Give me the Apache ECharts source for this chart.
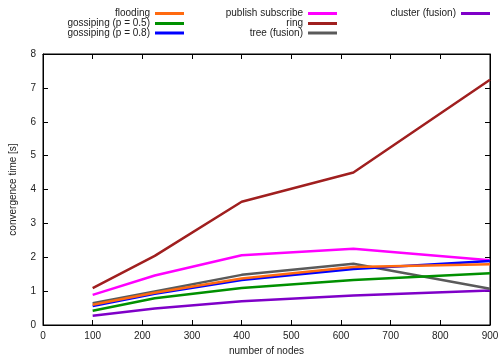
<!DOCTYPE html>
<html>
<head>
<meta charset="utf-8">
<script src="https://cdn.jsdelivr.net/npm/echarts@6/dist/echarts.min.js"></script>
<style>
  html, body { margin: 0; padding: 0; background: #fff; }
  #chart { width: 499px; height: 359px; }
</style>
</head>
<body>
<div id="chart"></div>
<script>
// Number of nodes in each run
const nodes = [100, 225, 400, 625, 900];

// Convergence time in seconds per protocol
const flooding = [0.60, 0.95, 1.37, 1.71, 1.79];
const gossip05 = [0.42, 0.79, 1.09, 1.33, 1.53];
const gossip08 = [0.56, 0.92, 1.33, 1.65, 1.89];
const pubsub = [0.89, 1.46, 2.06, 2.25, 1.91];
const ring = [1.09, 2.04, 3.64, 4.50, 7.24];
const tree = [0.64, 0.99, 1.48, 1.81, 1.07];
const cluster = [0.27, 0.49, 0.70, 0.87, 1.02];

const seriesNames = ['flooding', 'gossiping (p = 0.5)', 'gossiping (p = 0.8)',
  'publish subscribe', 'ring', 'tree (fusion)', 'cluster (fusion)'];
const seriesData = [flooding, gossip05, gossip08, pubsub, ring, tree, cluster];
const colors = ['#ff6a10', '#009000', '#0000ff', '#ff00ff', '#a01f1f', '#5a5a5a', '#7f00c8'];

// Key layout: three columns, text right-aligned before the line sample
const keyRight = [315, 315, 315, 162, 162, 162, 9];
const keyTop = [8.5, 18.5, 28, 8.5, 18.5, 28, 8.5];

const font = '"Liberation Sans", Arial, sans-serif';
const ink = '#222';

const chart = echarts.init(document.getElementById('chart'), null, { renderer: 'canvas' });

const series = seriesNames.map((name, i) => ({
  name: name,
  type: 'line',
  data: nodes.map((n, j) => [n, seriesData[i][j]]),
  showSymbol: false,
  symbol: 'none',
  lineStyle: { width: 2.5, color: colors[i] },
  itemStyle: { color: colors[i] },
  z: 10 - i
}));

const legends = seriesNames.map((name, i) => ({
  data: [name],
  orient: 'horizontal',
  align: 'right',
  right: keyRight[i],
  top: keyTop[i],
  padding: 0,
  icon: 'rect',
  itemWidth: 29,
  itemHeight: 3,
  selectedMode: false,
  textStyle: { fontFamily: font, fontSize: 10, color: ink }
}));

function axisLine() {
  return { show: true, onZero: false, lineStyle: { color: '#000', width: 1 } };
}
function axisTick() {
  return { show: true, inside: true, length: 5, lineStyle: { color: '#000', width: 1 } };
}

chart.setOption({
  animation: false,
  backgroundColor: '#fff',
  color: colors,
  legend: legends,
  grid: {
    left: 43, right: 9, top: 54, bottom: 34,
    outerBoundsMode: 'none',
    show: true, borderColor: '#000', borderWidth: 1
  },
  xAxis: [{
    type: 'value', min: 0, max: 900, interval: 100, position: 'bottom',
    name: 'number of nodes', nameLocation: 'middle', nameGap: 19,
    nameTextStyle: { fontFamily: font, fontSize: 10, color: ink },
    axisLine: axisLine(), axisTick: axisTick(),
    axisLabel: { fontFamily: font, fontSize: 10, color: ink, margin: 6 },
    splitLine: { show: false }
  }, {
    type: 'value', min: 0, max: 900, interval: 100, position: 'top',
    axisLine: axisLine(), axisTick: axisTick(),
    axisLabel: { show: false }, splitLine: { show: false }
  }],
  yAxis: [{
    type: 'value', min: 0, max: 8, interval: 1, position: 'left',
    name: 'convergence time [s]', nameLocation: 'middle', nameGap: 25,
    nameTextStyle: { fontFamily: font, fontSize: 10, color: ink },
    axisLine: axisLine(), axisTick: axisTick(),
    axisLabel: { fontFamily: font, fontSize: 10, color: ink, margin: 7 },
    splitLine: { show: false }
  }, {
    type: 'value', min: 0, max: 8, interval: 1, position: 'right',
    axisLine: axisLine(), axisTick: axisTick(),
    axisLabel: { show: false }, splitLine: { show: false }
  }],
  series: series
});
</script>
</body>
</html>
